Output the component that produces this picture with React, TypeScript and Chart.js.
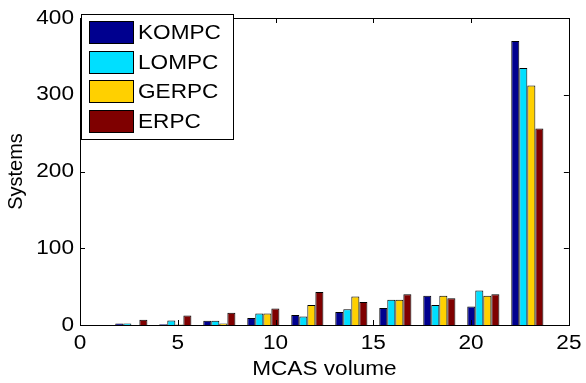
import React, { useEffect, useRef } from "react";
import { Chart, registerables } from "chart.js";

Chart.register(...registerables);

const binCenters = [2.625, 4.875, 7.125, 9.375, 11.625, 13.875, 16.125, 18.375, 20.625, 22.875];
const seriesNames = ["KOMPC", "LOMPC", "GERPC", "ERPC"];
const kompc = [2, 1, 5.5, 9, 13, 17, 22, 38, 24, 370];
const lompc = [2, 6, 5.5, 15, 11, 20.5, 33, 26, 45, 335];
const gerpc = [0, 0.5, 2, 15, 26, 37, 33, 38, 38, 312];
const erpc = [7, 12.5, 16, 21.5, 43, 30, 40, 35, 40, 256];
const seriesColors = ["#00008F", "#00DFFF", "#FFD000", "#7F0000"];
const xTicks = [0, 5, 10, 15, 20, 25];
const yTicks = [0, 100, 200, 300, 400];

const FONT = "'Liberation Sans', Arial, Helvetica, sans-serif";
const FSIZE = 20;
const STRETCH = 1.13;

const stretchPlugin = {
  id: "stretchText",
  beforeDraw(chart: any) {
    const ctx = chart.ctx;
    if (ctx.__stretched) return;
    ctx.__stretched = true;
    const orig = ctx.fillText.bind(ctx);
    ctx.fillText = (text: string, x: number, y: number, maxWidth?: number) => {
      const t = ctx.getTransform();
      if (Math.abs(t.b) > 1e-6 || Math.abs(t.c) > 1e-6) {
        if (maxWidth !== undefined) orig(text, x, y, maxWidth);
        else orig(text, x, y);
        return;
      }
      ctx.save();
      ctx.translate(x, y);
      ctx.scale(STRETCH, 1);
      orig(text, 0, 0);
      ctx.restore();
    };
  },
};

const boxPlugin = {
  id: "matlabBox",
  afterDatasetsDraw(chart: any) {
    const { ctx, chartArea: a, scales } = chart;
    ctx.save();
    ctx.strokeStyle = "#000";
    ctx.lineWidth = 1;
    const tl = 5;
    ctx.beginPath();
    xTicks.forEach((v) => {
      const px = Math.round(scales.x.getPixelForValue(v)) + 0.5;
      ctx.moveTo(px, a.bottom);
      ctx.lineTo(px, a.bottom - tl);
      ctx.moveTo(px, a.top);
      ctx.lineTo(px, a.top + tl);
    });
    yTicks.forEach((v) => {
      const py = Math.round(scales.y.getPixelForValue(v)) + 0.5;
      ctx.moveTo(a.left, py);
      ctx.lineTo(a.left + tl, py);
      ctx.moveTo(a.right, py);
      ctx.lineTo(a.right - tl, py);
    });
    ctx.stroke();
    ctx.strokeRect(Math.round(a.left) + 0.5, Math.round(a.top) + 0.5, Math.round(a.right - a.left), Math.round(a.bottom - a.top));

    // legend
    const lx = 81, ly = 14, lw = 152, lh = 125;
    ctx.fillStyle = "#fff";
    ctx.fillRect(lx, ly, lw, lh);
    ctx.strokeStyle = "#000";
    ctx.strokeRect(lx + 0.5, ly + 0.5, lw, lh);
    const rows = [32, 62, 91, 121];
    ctx.font = `${FSIZE}px ${FONT}`;
    ctx.textBaseline = "middle";
    ctx.textAlign = "left";
    chart.data.datasets.forEach((ds: any, i: number) => {
      const cy = rows[i];
      ctx.fillStyle = ds.backgroundColor;
      ctx.fillRect(89, cy - 11, 44, 22);
      ctx.strokeStyle = "#000";
      ctx.strokeRect(89.5, cy - 10.5, 44, 22);
      ctx.fillStyle = "#000";
      ctx.fillText(ds.label, 138, cy + 1);
    });
    ctx.restore();
  },
};

export default function App() {
  const ref = useRef<HTMLCanvasElement | null>(null);
  useEffect(() => {
    if (!ref.current) return;
    const allSeries = [kompc, lompc, gerpc, erpc];
    const chart = new Chart(ref.current, {
      type: "bar",
      data: {
        datasets: allSeries.map((vals, i) => ({
          label: seriesNames[i],
          data: vals.map((v, j) => ({ x: binCenters[j], y: v })),
          backgroundColor: seriesColors[i],
          borderColor: "#000",
          borderWidth: 1,
          categoryPercentage: 0.73,
          barPercentage: 1,
        })),
      },
      options: {
        animation: false,
        responsive: false,
        devicePixelRatio: 1,
        layout: { padding: { top: 14, right: 13, left: 0, bottom: 0 } },
        plugins: { legend: { display: false }, tooltip: { enabled: false } },
        scales: {
          x: {
            type: "linear",
            min: 0,
            max: 25,
            offset: false,
            grid: { display: false, drawTicks: false },
            border: { display: false },
            ticks: {
              stepSize: 5,
              color: "#000",
              padding: 6,
              font: { size: FSIZE, family: FONT },
              maxRotation: 0,
            },
            title: {
              display: true,
              text: "MCAS volume",
              color: "#000",
              font: { size: FSIZE, family: FONT },
              padding: { top: 0, bottom: 2 },
            },
            afterFit: (s: any) => {
              s.height = 58;
            },
          },
          y: {
            min: 0,
            max: 400,
            grid: { display: false, drawTicks: false },
            border: { display: false },
            ticks: {
              stepSize: 100,
              color: "#000",
              padding: 6,
              font: { size: FSIZE, family: FONT },
            },
            title: {
              display: true,
              text: "Systems",
              color: "#000",
              font: { size: FSIZE, family: FONT },
              padding: { top: 4, bottom: 0 },
            },
            afterFit: (s: any) => {
              s.width = 80;
            },
          },
        },
      },
      plugins: [stretchPlugin, boxPlugin],
    } as any);
    return () => chart.destroy();
  }, []);
  return (
    <div style={{ position: "absolute", left: 0, top: 0, width: 586, height: 383, background: "#fff" }}>
      <canvas ref={ref} width={586} height={383} />
    </div>
  );
}
